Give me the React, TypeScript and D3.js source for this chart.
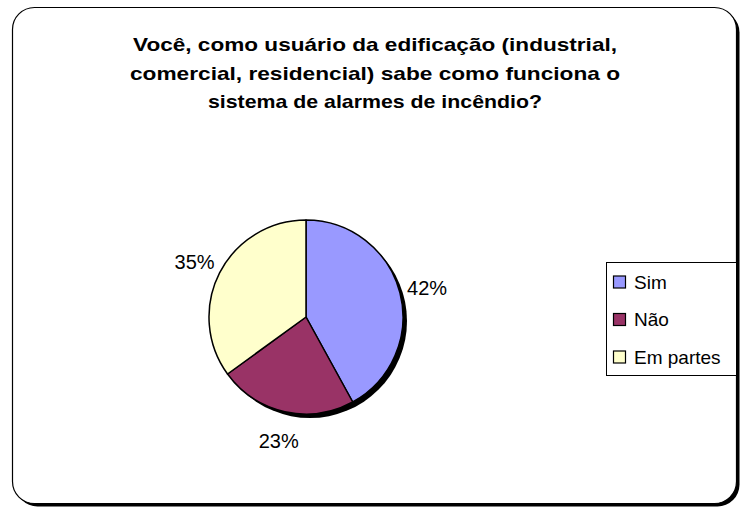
import React from "react";
import * as d3 from "d3";

const categories = ["Sim", "Não", "Em partes"];
const values = [42, 23, 35];
const colors = ["#9999FF", "#993366", "#FFFFCC"];
const titleLines = [
  "Você, como usuário da edificação (industrial,",
  "comercial, residencial) sabe como funciona o",
  "sistema de alarmes de incêndio?",
];
const titleWidths = [484, 490, 334];

const W = 741;
const H = 510;
const cx = 306;
const cy = 317;
const R = 97;
const font = "'Liberation Sans', Arial, sans-serif";

export default function App() {
  const total = d3.sum(values);
  const pie = d3.pie<number>().sort(null).value((d) => d);
  const arcs = pie(values);
  const arcGen = d3.arc<d3.PieArcDatum<number>>().innerRadius(0).outerRadius(R);
  const labelArc = d3.arc<d3.PieArcDatum<number>>().innerRadius(125).outerRadius(125);
  const legendY = d3.scalePoint<string>().domain(categories).range([282, 357]);

  return (
    <svg
      width={W}
      height={H}
      style={{ position: "absolute", left: 0, top: 0, background: "#fff" }}
    >
      <rect x={15.5} y={10.5} width={724} height={496} rx={22} fill="#000" />
      <rect x={12.5} y={7.5} width={724} height={496} rx={22} fill="#fff" stroke="#000" strokeWidth={1.2} />

      {titleLines.map((t, i) => (
        <text
          key={i}
          x={375}
          y={51 + i * 28.5}
          textAnchor="middle"
          fontFamily={font}
          fontWeight="bold"
          fontSize={19}
          textLength={titleWidths[i]}
          lengthAdjust="spacingAndGlyphs"
          fill="#000"
        >
          {t}
        </text>
      ))}

      <g transform={`translate(${cx},${cy})`}>
        <circle cx={4} cy={4} r={R} fill="#000" />
        {arcs.map((a, i) => (
          <path key={i} d={arcGen(a) || ""} fill={colors[i]} stroke="#000" strokeWidth={1.5} strokeLinejoin="round" />
        ))}
        {arcs.map((a, i) => {
          const [lx, ly] = labelArc.centroid(a);
          return (
            <text
              key={"l" + i}
              x={lx}
              y={ly + 2}
              textAnchor="middle"
              dominantBaseline="central"
              fontFamily={font}
              fontSize={20}
              fill="#000"
            >
              {Math.round((values[i] / total) * 100)}%
            </text>
          );
        })}
      </g>

      <rect x={606.5} y={262.5} width={130} height={113} fill="#fff" stroke="#000" strokeWidth={1} />
      {categories.map((c, i) => (
        <g key={c}>
          <rect
            x={613.5}
            y={(legendY(c) || 0) - 6}
            width={12}
            height={12}
            fill={colors[i]}
            stroke="#000"
            strokeWidth={1.2}
          />
          <text
            x={634}
            y={legendY(c) || 0}
            dominantBaseline="central"
            fontFamily={font}
            fontSize={19}
            fill="#000"
          >
            {c}
          </text>
        </g>
      ))}
    </svg>
  );
}
